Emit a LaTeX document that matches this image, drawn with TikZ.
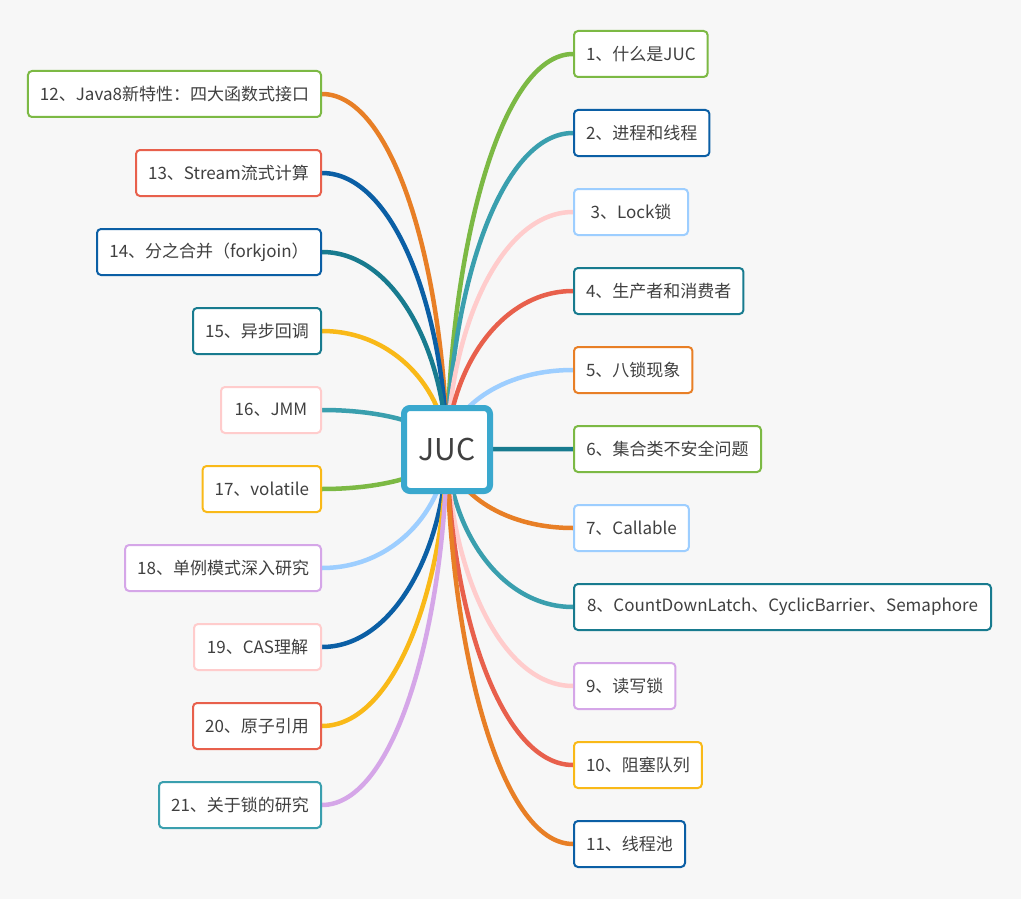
\documentclass[tikz,border=0pt]{standalone}
\usepackage{fontspec}
\setmainfont{Noto Sans CJK SC}
\usetikzlibrary{backgrounds, calc}

\definecolor{jgreen}{HTML}{7CB944}
\definecolor{jdarkblue}{HTML}{0B5FA5}
\definecolor{jteal}{HTML}{3A9FAE}
\definecolor{jdarkteal}{HTML}{187B8F}
\definecolor{jpink}{HTML}{FFCCCC}
\definecolor{jlightblue}{HTML}{9DCEFF}
\definecolor{jred}{HTML}{E8604C}
\definecolor{jorange}{HTML}{E87F26}
\definecolor{jyellow}{HTML}{F9B918}
\definecolor{jlavender}{HTML}{D5A6E8}
\definecolor{jroot}{HTML}{3AA8CE}
\definecolor{jtext}{HTML}{404040}
\definecolor{jbg}{HTML}{F7F7F7}

\tikzset{
	topic/.style={draw, line width=2pt, rounded corners=4pt, fill=white, minimum height=46pt,
		inner xsep=12pt, text=jtext, font=\fontsize{17}{20}\selectfont},
	branch/.style={line width=4.5pt},
}

\begin{document}
\begin{tikzpicture}[x=1pt, y=-1pt]
	\useasboundingbox (0,0) rectangle (1021,899);
	\node[draw=jroot, line width=6pt, rounded corners=6pt, fill=white, minimum width=86pt,
		minimum height=83pt, text=jtext, font=\fontsize{30}{36}\selectfont] (root) at (447,449.5) {JUC};
	% right side topics
	\foreach \n/\y/\w/\txt/\bc in {
		1/54/132/1、什么是JUC/jgreen,
		2/133/135/2、进程和线程/jdarkblue,
		3/212/114/3、Lock锁/jlightblue,
		4/291/169/4、生产者和消费者/jdarkteal,
		5/370/117/5、八锁现象/jorange,
		6/449/187/6、集合类不安全问题/jgreen,
		7/528/114/7、Callable/jlightblue,
		8/607/417/8、CountDownLatch、CyclicBarrier、Semaphore/jdarkteal,
		9/686/101/9、读写锁/jlavender,
		10/765/127/10、阻塞队列/jyellow,
		11/844/111/11、线程池/jdarkblue} {
		\node[topic, draw=\bc, minimum width=\w pt, anchor=west] (t\n) at (573,\y) {\txt};
	}
	% left side topics
	\foreach \n/\y/\w/\txt/\bc in {
		12/94/291/12、Java8新特性：四大函数式接口/jgreen,
		13/173/185/13、Stream流式计算/jred,
		14/252/224/14、分之合并（forkjoin）/jdarkblue,
		15/331/128/15、异步回调/jdarkteal,
		16/410/100/16、JMM/jpink,
		17/489/118/17、volatile/jyellow,
		18/568/195/18、单例模式深入研究/jlavender,
		19/647/127/19、CAS理解/jpink,
		20/726/128/20、原子引用/jred,
		21/805/162/21、关于锁的研究/jteal} {
		\node[topic, draw=\bc, minimum width=\w pt, anchor=east] (t\n) at (322,\y) {\txt};
	}
	\begin{scope}[on background layer]
		\fill[jbg] (0,0) rectangle (1021,899);
		\foreach \n/\lc in {1/jgreen, 2/jteal, 3/jpink, 4/jred, 5/jlightblue, 6/jdarkteal,
			7/jorange, 8/jteal, 9/jpink, 10/jred, 11/jorange} {
			\draw[branch, draw=\lc] (root.center)
				.. controls ($(root.center)!0.5!(root.center |- t\n.west) + (3,0)$)
				and ($(root.center |- t\n.west)!0.42!(t\n.west)$) .. (t\n.west);
		}
		\foreach \n/\lc in {12/jorange, 13/jdarkblue, 14/jdarkteal, 15/jyellow, 16/jteal,
			17/jgreen, 18/jlightblue, 19/jdarkblue, 20/jyellow, 21/jlavender} {
			\draw[branch, draw=\lc] (root.center)
				.. controls ($(root.center)!0.5!(root.center |- t\n.east) + (-3,0)$)
				and ($(root.center |- t\n.east)!0.42!(t\n.east)$) .. (t\n.east);
		}
	\end{scope}
\end{tikzpicture}
\end{document}
